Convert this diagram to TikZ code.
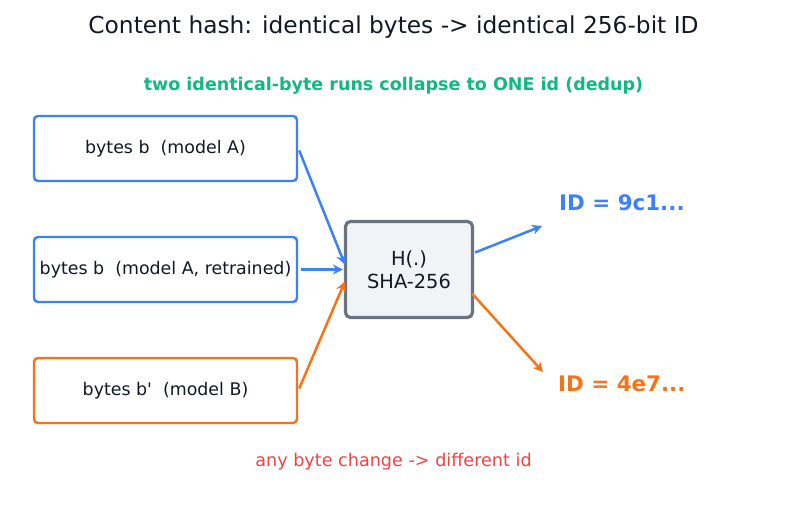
\documentclass[tikz,border=0pt]{standalone}
\usepackage{fontspec}
\setmainfont{DejaVu Sans}
\usetikzlibrary{arrows.meta,calc}
\definecolor{cblue}{HTML}{3B82F6}
\definecolor{corange}{HTML}{F97316}
\definecolor{cgray}{HTML}{6B7280}
\definecolor{cfill}{HTML}{F1F4F7}
\definecolor{cgreen}{HTML}{10B981}
\definecolor{cred}{HTML}{EF4444}
\definecolor{ctext}{HTML}{111827}
\tikzset{
  inbox/.style={draw=#1, line width=2.4pt, rounded corners=4pt, fill=white,
    minimum width=263pt, minimum height=65pt, inner sep=0pt, text=ctext,
    font=\fontsize{17.4}{20}\selectfont},
  hashbox/.style={draw=cgray, line width=3.2pt, rounded corners=5pt, fill=cfill,
    minimum width=127pt, minimum height=96pt, inner sep=0pt, text=ctext, align=center,
    font=\fontsize{19.4}{23}\selectfont},
  conn/.style={draw=#1, line width=2.5pt, -{Stealth[length=10pt,width=10pt]}},
  idlabel/.style={text=#1, anchor=west, inner sep=0pt, font=\bfseries\fontsize{21.4}{24}\selectfont}
}
\begin{document}
\begin{tikzpicture}[x=1pt,y=-1pt]
\useasboundingbox (0,0) rectangle (787,510);
\node[text=ctext, font=\fontsize{23.3}{27}\selectfont] (title) at (393.5,27) {Content hash: identical bytes -> identical 256-bit ID};
\node[text=cgreen, font=\bfseries\fontsize{17.5}{20}\selectfont] (sub) at (393.5,85.5) {two identical-byte runs collapse to ONE id (dedup)};
\node[inbox=cblue] (a) at (165.5,148.5) {bytes b\ \ (model A)};
\node[inbox=cblue] (r) at (165.5,269.5) {bytes b\ \ (model A, retrained)};
\node[inbox=corange] (m) at (165.5,390.5) {bytes b\textquotesingle\ \ (model B)};
\node[hashbox] (h) at (409,269.5) {H(.)\\SHA-256};
\node[idlabel=cblue] (id1) at (559,203) {ID = 9c1...};
\node[idlabel=corange] (id2) at (558,384) {ID = 4e7...};
\node[text=cred, font=\fontsize{17.6}{20}\selectfont] (foot) at (393.5,461.5) {any byte change -> different id};
\coordinate (t1) at ($(id1.west)+(-17,23)$);
\coordinate (t2) at ($(id2.west)+(-15,-12)$);
\draw[conn=cblue] ($(a.east)+(1,2)$) -- ($(h.west)+(1,-5)$);
\draw[conn=cblue] ($(r.east)+(3,0)$) -- ($(h.west)+(-1,0)$);
\draw[conn=corange] ($(m.east)+(1,-2)$) -- ($(h.west)+(1,12)$);
\draw[conn=cblue] ($(h.east)+(1,-17)$) -- (t1);
\draw[conn=corange] ($(h.east)+(-2,24)$) -- (t2);
\end{tikzpicture}
\end{document}
